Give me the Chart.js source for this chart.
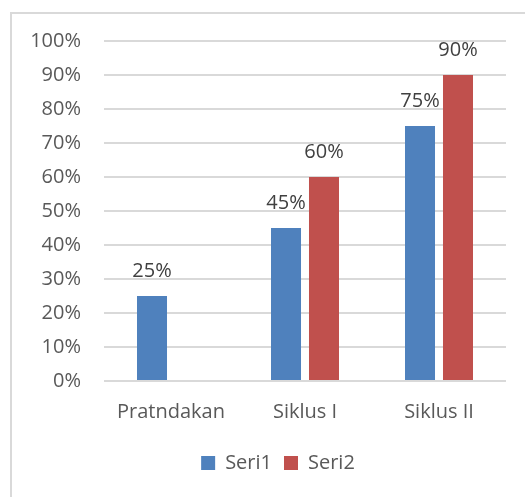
<!DOCTYPE html>
<html>
<head>
<meta charset="utf-8">
<script src="https://cdn.jsdelivr.net/npm/chart.js@4"></script>
<style>
  body { margin: 0; background: #fff; overflow: hidden; }
  #frame { position: absolute; left: 10px; top: 12px; width: 600px; height: 600px; border: 2px solid #D9D9D9; box-sizing: border-box; }
  #wrap { position: absolute; left: 0; top: 0; width: 525px; height: 497px; }
</style>
</head>
<body>
<div id="frame"></div>
<div id="wrap"><canvas id="barChart" width="525" height="497"></canvas></div>
<script>
const categories = ["Pratndakan", "Siklus I", "Siklus II"];
const seri1 = [25, 45, 75];
const seri2 = [null, 60, 90];
const yTicks = [0, 10, 20, 30, 40, 50, 60, 70, 80, 90, 100];

const FONT = "'Open Sans', sans-serif";

// draw the value above each bar
const valueLabels = {
  id: "valueLabels",
  afterDatasetsDraw(chart) {
    const ctx = chart.ctx;
    ctx.save();
    ctx.font = "20px " + FONT;
    ctx.fillStyle = "#404040";
    ctx.textAlign = "center";
    ctx.textBaseline = "alphabetic";
    chart.data.datasets.forEach((ds, i) => {
      chart.getDatasetMeta(i).data.forEach((bar, j) => {
        if (ds.data[j] == null) return;
        ctx.fillText(ds.data[j] + "%", bar.x, bar.y - 19);
      });
    });
    ctx.restore();
  },
};

// nudge the legend a bit to the right, like the original
const legendShift = {
  id: "legendShift",
  afterLayout(chart) {
    chart.legend.left += 20;
    chart.legend.right += 20;
  },
};

const ctx = document.getElementById("barChart").getContext("2d");
const barChart = new Chart(ctx, {
  type: "bar",
  data: {
    labels: categories,
    datasets: [
      {
        label: "Seri1",
        data: seri1,
        backgroundColor: "#4F81BD",
        categoryPercentage: 0.567,
        barPercentage: 0.79,
      },
      {
        label: "Seri2",
        data: seri2,
        backgroundColor: "#C0504D",
        categoryPercentage: 0.567,
        barPercentage: 0.79,
      },
    ],
  },
  options: {
    responsive: false,
    animation: false,
    layout: {
      padding: { left: 10, right: 19, top: 41, bottom: 14 },
    },
    plugins: {
      tooltip: { enabled: false },
      legend: {
        position: "bottom",
        labels: {
          boxWidth: 14,
          boxHeight: 14,
          padding: 12,
          color: "#595959",
          font: { family: FONT, size: 20 },
        },
      },
    },
    scales: {
      x: {
        grid: { display: false },
        border: { display: false },
        afterFit(scale) {
          scale.height += 6;
        },
        ticks: {
          color: "#595959",
          padding: 11,
          font: { family: FONT, size: 20 },
        },
      },
      y: {
        min: 0,
        max: 100,
        afterFit(scale) {
          scale.width = 94;
        },
        afterBuildTicks(scale) {
          scale.ticks = yTicks.map((v) => ({ value: v }));
        },
        grid: { color: "#D9D9D9", lineWidth: 2, drawTicks: false },
        border: { display: false },
        ticks: {
          color: "#595959",
          padding: 23,
          font: { family: FONT, size: 20 },
          callback: (v) => v + "%",
        },
      },
    },
  },
  plugins: [valueLabels, legendShift],
});
</script>
</body>
</html>
